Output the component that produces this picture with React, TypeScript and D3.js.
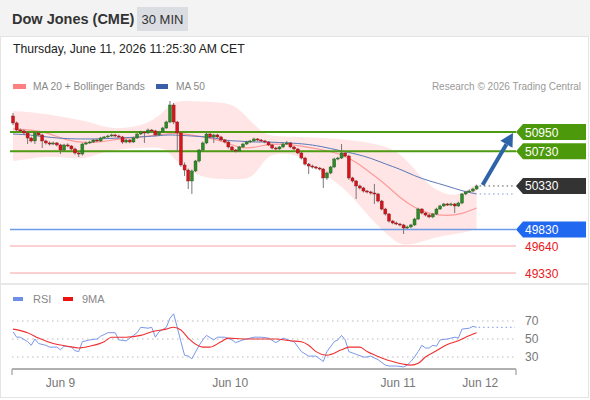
import React from 'react';
import * as d3 from 'd3';

const FONT = '"Liberation Sans", Arial, Helvetica, sans-serif';

// 30 minute bars, index 0 = first bar on screen
const firstOpen = 51134;
const closes = [
  51054, 50973, 50962, 50939, 50881, 50847, 50939, 50916, 50847, 50824,
  50812, 50824, 50801, 50743, 50801, 50789, 50755, 50709, 50697, 50812,
  50824, 50835, 50858, 50847, 50881, 50893, 50904, 50916, 50904, 50893,
  50835, 50858, 50835, 50881, 50927, 50950, 50939, 50973, 50962, 50916,
  50950, 50996, 51065, 51260, 51065, 50939, 50571, 50513, 50387, 50502,
  50617, 50743, 50824, 50927, 50893, 50916, 50893, 50858, 50835, 50778,
  50743, 50732, 50778, 50812, 50835, 50847, 50870, 50858, 50847, 50835,
  50801, 50766, 50755, 50778, 50812, 50824, 50778, 50755, 50709, 50651,
  50582, 50559, 50548, 50536, 50525, 50422, 50479, 50548, 50640, 50651,
  50709, 50674, 50422, 50387, 50330, 50307, 50272, 50261, 50249, 50238,
  50157, 50065, 50008, 49927, 49905, 49893, 49882, 49847, 49859, 49882,
  49950, 50065, 50019, 49996, 49974, 50008, 50065, 50100, 50123, 50111,
  50123, 50100, 50134, 50238, 50261, 50272, 50295, 50330,
];
const highs = [
  51168, 51070, 50990, 50980, 50950, 50895, 50950, 50955, 50930, 50860,
  50840, 50840, 50835, 50815, 50815, 50820, 50800, 50770, 50720, 50825,
  50840, 50850, 50870, 50870, 50895, 50905, 50920, 50930, 50930, 50920,
  50905, 50870, 50870, 50895, 50940, 50965, 50960, 50990, 50985, 50975,
  50965, 51010, 51080, 51306, 51283, 51076, 50950, 50600, 50530, 50520,
  50630, 50755, 50840, 50950, 50940, 50930, 50930, 50905, 50870, 50845,
  50790, 50755, 50790, 50825, 50850, 50860, 50885, 50880, 50870, 50860,
  50845, 50815, 50780, 50790, 50825, 50847, 50835, 50790, 50765, 50720,
  50665, 50595, 50575, 50560, 50548, 50536, 50495, 50560, 50655, 50665,
  50812, 50720, 50690, 50435, 50400, 50345, 50320, 50285, 50275, 50353,
  50250, 50170, 50080, 50020, 49940, 49920, 49905, 49895, 49875, 49895,
  49965, 50080, 50075, 50030, 50010, 50020, 50080, 50115, 50135, 50135,
  50140, 50135, 50150, 50250, 50275, 50290, 50310, 50345,
];
const lows = [
  51030, 50960, 50945, 50920, 50812, 50830, 50812, 50900, 50766, 50805,
  50795, 50800, 50785, 50697, 50730, 50775, 50740, 50690, 50663, 50680,
  50800, 50815, 50825, 50835, 50835, 50870, 50885, 50895, 50890, 50880,
  50815, 50820, 50820, 50825, 50870, 50915, 50824, 50925, 50945, 50900,
  50905, 50940, 50985, 51050, 51040, 50732, 50550, 50445, 50295, 50238,
  50490, 50600, 50730, 50810, 50875, 50824, 50880, 50845, 50820, 50760,
  50730, 50715, 50720, 50765, 50800, 50825, 50835, 50845, 50835, 50820,
  50790, 50750, 50740, 50745, 50765, 50800, 50765, 50740, 50695, 50635,
  50565, 50468, 50530, 50520, 50510, 50307, 50400, 50465, 50535, 50625,
  50640, 50660, 50400, 50370, 50180, 50290, 50255, 50245, 50230, 50123,
  50140, 50050, 49990, 49910, 49890, 49880, 49865, 49778, 49835, 49845,
  49870, 49940, 50005, 49980, 49960, 49960, 49995, 50055, 50090, 50100,
  50100, 50019, 50090, 50120, 50225, 50250, 50260, 50285,
];

// indicator readings at some bars
const bandIdx = [0, 5, 9, 15, 20, 24, 29, 35, 39, 42, 44, 49, 54, 59, 62, 65, 68, 70, 76, 80, 84, 90, 94, 98, 102, 106, 110, 114, 119, 123, 127];
const bandUpper = [51191, 51180, 51157, 51111, 51076, 51019, 50985, 51019, 51099, 51214, 51306, 51306, 51295, 51283, 51214, 51076, 50962, 50904, 50893, 50893, 50881, 50870, 50847, 50824, 50789, 50709, 50525, 50330, 50215, 50238, 50353];
const bandLower = [50617, 50640, 50674, 50651, 50640, 50709, 50755, 50766, 50778, 50755, 50640, 50479, 50410, 50410, 50410, 50410, 50559, 50697, 50709, 50640, 50502, 50330, 50157, 49950, 49790, 49640, 49663, 49721, 49767, 49790, 49836];
const ma20 = [50985, 50973, 50950, 50847, 50824, 50835, 50870, 50893, 50916, 50927, 50939, 50916, 50881, 50824, 50766, 50766, 50789, 50812, 50812, 50778, 50755, 50697, 50605, 50479, 50353, 50192, 50077, 50008, 49985, 50008, 50077];
const ma50 = [50927, 50916, 50893, 50870, 50870, 50870, 50881, 50893, 50904, 50916, 50916, 50904, 50893, 50847, 50847, 50835, 50835, 50835, 50824, 50812, 50789, 50732, 50697, 50651, 50582, 50525, 50445, 50387, 50330, 50272, 50238];

const rsiIdx = [0, 1, 2, 4, 5, 6, 7, 9, 10, 12, 13, 14, 16, 17, 18, 19, 21, 23, 24, 26, 28, 29, 31, 33, 34, 35, 37, 38, 39, 40, 42, 43, 44, 45, 46, 47, 48, 49, 51, 52, 53, 55, 56, 58, 60, 61, 63, 66, 68, 70, 72, 74, 76, 77, 79, 81, 83, 85, 86, 88, 89, 90, 91, 92, 94, 96, 97, 98, 100, 102, 103, 105, 107, 108, 109, 110, 111, 112, 113, 114, 115, 116, 117, 119, 121, 122, 123, 125, 126, 127];
const rsiVal = [58, 52, 52, 47, 43, 50, 45, 43, 41, 41, 38, 42, 41, 37, 36, 47, 49, 50, 53, 57, 57, 49, 48, 54, 57, 63, 62, 63, 52, 58, 63, 73, 78, 63, 47, 32, 31, 28, 43, 49, 54, 49, 52, 52, 49, 46, 49, 52, 52, 51, 46, 51, 48, 47, 36, 31, 31, 25, 36, 47, 49, 54, 49, 36, 33, 30, 30, 31, 27, 21, 20, 20, 19, 21, 25, 30, 36, 43, 40, 40, 43, 42, 49, 50, 52, 51, 61, 62, 64, 63];
const ma9Idx = [0, 4, 7, 11, 15, 18, 21, 25, 27, 31, 35, 38, 42, 44, 46, 48, 52, 54, 57, 59, 63, 68, 72, 76, 79, 81, 83, 86, 90, 92, 95, 97, 101, 104, 107, 109, 111, 113, 116, 119, 122, 124, 127];
const ma9Val = [61, 57, 51, 45, 42, 40, 42, 47, 52, 52, 54, 58, 61, 63, 60, 51, 41, 41, 47, 51, 50, 50, 50, 48, 47, 43, 36, 32, 38, 41, 41, 36, 29, 25, 22, 21, 23, 30, 37, 44, 48, 52, 57];

const dayTicks = [13, 59.5, 105.5, 128];
const dayLabels = ['Jun 9', 'Jun 10', 'Jun 11', 'Jun 12'];

const resistances = [50950, 50730];
const lastPrice = 50330;
const pivot = 49830;
const supports = [49640, 49330];
const rsiLevels = [70, 50, 30];

export default function App() {
  const n = closes.length;
  const x = d3.scaleLinear().domain([0, n - 1]).range([13, 476.6]);
  const y = d3.scaleLinear().domain([49330, 50950]).range([273, 132]);
  const ry = d3.scaleLinear().domain([30, 70]).range([357, 321]);

  const bars = closes.map((c, i) => ({
    i,
    o: i === 0 ? firstOpen : closes[i - 1],
    c,
    h: highs[i],
    l: lows[i],
  }));

  const band = bandIdx.map((i, k) => ({ i, u: bandUpper[k], l: bandLower[k], m: ma20[k], s: ma50[k] }));
  const areaGen = d3
    .area<any>()
    .x((d) => x(d.i))
    .y0((d) => y(d.l))
    .y1((d) => y(d.u))
    .curve(d3.curveBasis);
  const ma20Line = d3.line<any>().x((d) => x(d.i)).y((d) => y(d.m)).curve(d3.curveBasis);
  const ma50Line = d3.line<any>().x((d) => x(d.i)).y((d) => y(d.s)).curve(d3.curveBasis);

  const rsiLine = d3
    .line<number>()
    .x((d, k) => x(rsiIdx[k]))
    .y((d) => ry(d));
  const ma9Line = d3
    .line<number>()
    .x((d, k) => x(ma9Idx[k]))
    .y((d) => ry(d))
    .curve(d3.curveMonotoneX);

  const xEnd = x(n - 1);
  const right = 515;

  // arrow toward the first resistance
  const ax0 = xEnd + 6;
  const ay0 = y(lastPrice) - 1;
  const ax1 = 513;
  const ay1 = y(resistances[0]) + 1;
  const ang = Math.atan2(ay1 - ay0, ax1 - ax0);
  const headL = 13;
  const headW = 7;
  const bx = ax1 - headL * Math.cos(ang);
  const by = ay1 - headL * Math.sin(ang);
  const px = -Math.sin(ang) * headW;
  const py = Math.cos(ang) * headW;

  const tag = (v: number) => {
    const yy = y(v);
    return `M516,${yy} L523,${yy - 8} L586,${yy - 8} L586,${yy + 8} L523,${yy + 8} Z`;
  };

  return (
    <svg
      width={590}
      height={400}
      style={{ position: 'absolute', left: 0, top: 0, fontFamily: FONT }}
    >
      <rect x={0} y={0} width={590} height={400} fill="#ffffff" />
      <rect x={0} y={0} width={590} height={36} fill="#f3f3f3" />
      <rect x={0.5} y={36.5} width={588} height={361} fill="none" stroke="#e4e4e4" />
      <line x1={1} x2={588} y1={284} y2={284} stroke="#e8e8e8" strokeWidth={2} />

      {/* header */}
      <text x={12} y={24} fontSize={14.5} fontWeight="bold" fill="#333">
        Dow Jones (CME)
      </text>
      <rect x={137} y={7} width={51} height={24} fill="#dadde2" />
      <text x={162.5} y={24} fontSize={13} fill="#333" textAnchor="middle">
        30 MIN
      </text>
      <text x={13} y={53} fontSize={12.2} fill="#222">
        Thursday, June 11, 2026 11:25:30 AM CET
      </text>

      {/* legend */}
      <rect x={13} y={84} width={13} height={5} fill="#ff8080" />
      <text x={33} y={90} fontSize={10.2} fill="#888">MA 20 + Bollinger Bands</text>
      <rect x={156} y={84} width={12} height={5} fill="#3a5ea8" />
      <text x={176} y={90} fontSize={10.2} fill="#888">MA 50</text>
      <text x={581} y={90} fontSize={10} fill="#999" textAnchor="end">
        Research © 2026 Trading Central
      </text>

      {/* bollinger */}
      <path d={areaGen(band) || ''} fill="#ffe1e1" opacity={0.85} />
      <path d={ma20Line(band) || ''} fill="none" stroke="#ff9a9a" strokeWidth={1.2} />
      <path d={ma50Line(band) || ''} fill="none" stroke="#5a78b8" strokeWidth={1} />

      {/* levels */}
      {resistances.map((v) => (
        <line key={'r' + v} x1={10} x2={516} y1={y(v)} y2={y(v)} stroke="#4e9a12" strokeWidth={2} />
      ))}
      <line x1={10} x2={516} y1={y(pivot)} y2={y(pivot)} stroke="#6e9ae6" strokeWidth={1.5} />
      {supports.map((v) => (
        <line key={'s' + v} x1={10} x2={516} y1={y(v)} y2={y(v)} stroke="#f5a3a3" strokeWidth={1} />
      ))}
      <line x1={xEnd + 3} x2={right} y1={y(lastPrice)} y2={y(lastPrice)} stroke="#555" strokeDasharray="1.5,3" />
      <line x1={xEnd + 3} x2={right} y1={y(ma50[ma50.length - 1])} y2={y(ma50[ma50.length - 1])} stroke="#7c9ad8" strokeDasharray="1.5,3" />

      {/* candles */}
      {bars.map((b) => {
        const up = b.c >= b.o;
        const top = y(Math.max(b.o, b.c));
        const h = Math.max(1, Math.abs(y(b.o) - y(b.c)));
        const cx = x(b.i);
        return (
          <g key={b.i}>
            <line x1={cx} x2={cx} y1={y(b.h)} y2={y(b.l)} stroke="#777" strokeWidth={1} />
            <rect
              x={cx - 1.5}
              y={top}
              width={3}
              height={h}
              fill={up ? '#2f8a2a' : '#d4151d'}
              stroke={up ? '#245f20' : '#8a1a1a'}
              strokeWidth={0.4}
            />
          </g>
        );
      })}

      {/* arrow */}
      <line x1={ax0} y1={ay0} x2={bx} y2={by} stroke="#2f63a8" strokeWidth={4} />
      <path
        d={`M${ax1},${ay1} L${bx + px},${by + py} L${bx - px},${by - py} Z`}
        fill="#2f63a8"
      />

      {/* right tags */}
      {resistances.map((v) => (
        <g key={'t' + v}>
          <path d={tag(v)} fill="#4c9a0c" />
          <text x={525} y={y(v) + 4.5} fontSize={12} fill="#fff">{v}</text>
        </g>
      ))}
      <path d={tag(lastPrice)} fill="#333333" />
      <text x={525} y={y(lastPrice) + 4.5} fontSize={12} fill="#fff">{lastPrice}</text>
      <path d={tag(pivot)} fill="#1f68ef" />
      <text x={525} y={y(pivot) + 4.5} fontSize={12} fill="#fff">{pivot}</text>
      {supports.map((v) => (
        <text key={'st' + v} x={525} y={y(v) + 4.5} fontSize={12} fill="#e8191b">{v}</text>
      ))}

      {/* RSI panel */}
      <rect x={13} y={297} width={10} height={4} fill="#6d8fe8" />
      <text x={33} y={303} fontSize={11} fill="#888">RSI</text>
      <rect x={63} y={297} width={10} height={4} fill="#ee1111" />
      <text x={82} y={303} fontSize={11} fill="#888">9MA</text>
      {rsiLevels.map((v) => (
        <g key={'g' + v}>
          <line x1={12} x2={right} y1={ry(v)} y2={ry(v)} stroke="#bbb" strokeDasharray="1.5,3.5" />
          <text x={525} y={ry(v) + 4} fontSize={12} fill="#777">{v}</text>
        </g>
      ))}
      <path d={rsiLine(rsiVal) || ''} fill="none" stroke="#7a97ea" strokeWidth={1} />
      <line
        x1={xEnd + 2}
        x2={right}
        y1={ry(rsiVal[rsiVal.length - 1])}
        y2={ry(rsiVal[rsiVal.length - 1])}
        stroke="#7a97ea"
        strokeDasharray="1.5,3"
      />
      <path d={ma9Line(ma9Val) || ''} fill="none" stroke="#f03030" strokeWidth={1.1} />

      {/* time axis */}
      <line x1={12} x2={516} y1={369} y2={369} stroke="#b0b0b0" strokeWidth={2} />
      <line x1={12} x2={12} y1={369} y2={375} stroke="#b0b0b0" strokeWidth={1.5} />
      <line x1={516} x2={516} y1={369} y2={375} stroke="#b0b0b0" strokeWidth={1.5} />
      {dayTicks.map((t, k) => (
        <text key={dayLabels[k]} x={x(t)} y={387} fontSize={12} fill="#777" textAnchor="middle">
          {dayLabels[k]}
        </text>
      ))}
    </svg>
  );
}
